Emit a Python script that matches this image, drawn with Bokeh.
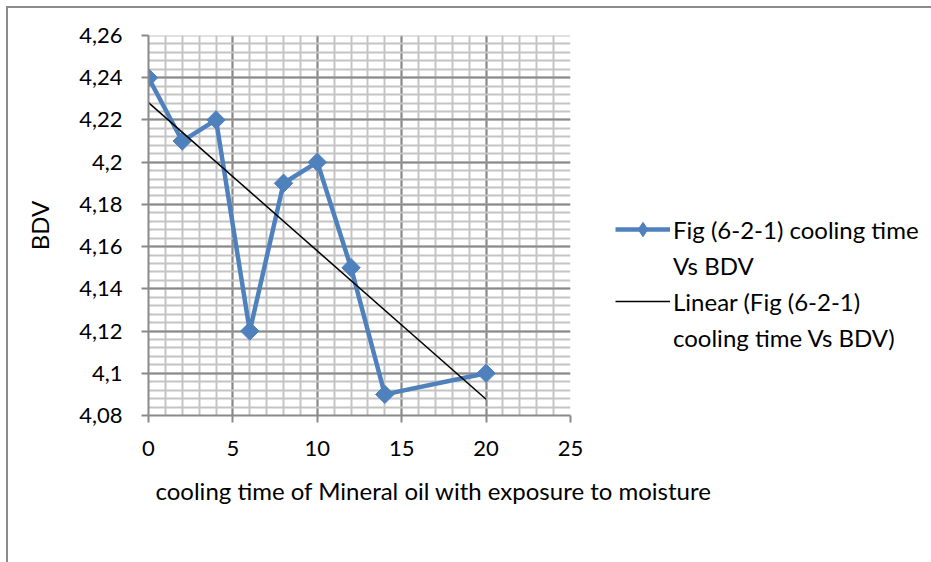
import numpy as np
from bokeh.plotting import figure
from bokeh.models import (Range1d, FixedTicker, Legend, LegendItem, Title)
from bokeh.embed import file_html
from bokeh.resources import INLINE

# ---- data -------------------------------------------------------------
cooling_time = [0, 2, 4, 6, 8, 10, 12, 14, 20]
bdv = [4.24, 4.21, 4.22, 4.12, 4.19, 4.20, 4.15, 4.09, 4.10]

y_ticks = [4.08, 4.10, 4.12, 4.14, 4.16, 4.18, 4.20, 4.22, 4.24, 4.26]
y_tick_labels = ["4,08", "4,1", "4,12", "4,14", "4,16", "4,18", "4,2",
                 "4,22", "4,24", "4,26"]
x_ticks = [0, 5, 10, 15, 20, 25]

series_label_1 = "Fig (6-2-1) cooling time"
series_label_2 = "Vs BDV"
trend_label_1 = "Linear (Fig (6-2-1)"
trend_label_2 = "cooling time Vs BDV)"
x_title = "cooling time of Mineral oil with exposure to moisture"
y_title = "BDV"

# linear trend line (least squares fit of the series)
slope, intercept = np.polyfit(cooling_time, bdv, 1)
trend_x = [cooling_time[0], cooling_time[-1]]
trend_y = [intercept + slope * t for t in trend_x]

# ---- style ------------------------------------------------------------
FONT = "Lato"
FS = "24px"
TICK_FS = "22px"
BLUE = "#4F81BD"
MAJOR = "#8a8a8a"
MINOR = "#c4c4c4"

p = figure(width=923, height=554, frame_width=422, frame_height=380,
           output_backend="svg", toolbar_location=None,
           x_range=Range1d(0, 25), y_range=Range1d(4.08, 4.26),
           min_border_left=140, min_border_right=0,
           min_border_top=27, min_border_bottom=147)
p.styles = {"margin-left": "6px", "margin-top": "6px",
            "border-left": "2px solid #8c8c8c",
            "border-top": "2px solid #8c8c8c"}
p.outline_line_color = None
p.background_fill_color = "white"
p.border_fill_color = "white"

# y minor positions (5 subdivisions per major step)
y_minor = [y_ticks[0] + i * (y_ticks[1] - y_ticks[0]) / 5
           for i in range(5 * (len(y_ticks) - 1) + 1)]

p.xaxis.ticker = FixedTicker(ticks=x_ticks,
                             minor_ticks=list(range(x_ticks[0], x_ticks[-1] + 1)))
p.yaxis.ticker = FixedTicker(ticks=y_ticks, minor_ticks=y_minor)
p.yaxis.major_label_overrides = {t: l for t, l in zip(y_ticks, y_tick_labels)}

for ax in (p.xaxis, p.yaxis):
    ax.axis_line_color = MAJOR
    ax.axis_line_width = 2
    ax.major_tick_line_color = MAJOR
    ax.major_tick_line_width = 2
    ax.major_tick_in = 0
    ax.major_tick_out = 7
    ax.minor_tick_line_color = None
    ax.major_label_text_font = FONT
    ax.major_label_text_font_size = TICK_FS
    ax.major_label_text_color = "black"

p.yaxis.major_label_standoff = 19
p.xaxis.major_label_standoff = 18
p.yaxis.axis_label = y_title
p.yaxis.axis_label_text_font = FONT
p.yaxis.axis_label_text_font_size = FS
p.yaxis.axis_label_text_font_style = "normal"
p.yaxis.axis_label_text_color = "black"
p.yaxis.axis_label_standoff = 22

for g in (p.xgrid, p.ygrid):
    g.grid_line_color = MAJOR
    g.grid_line_width = 2
    g.minor_grid_line_color = MINOR
    g.minor_grid_line_width = 2
p.xgrid.ticker = p.xaxis.ticker
p.ygrid.ticker = p.yaxis.ticker

# ---- glyphs -----------------------------------------------------------
series_line = p.line(cooling_time, bdv, line_color=BLUE, line_width=4.5)
# diamond markers (used as the legend swatch; covered by the rotated squares)
legend_marker = p.scatter(cooling_time, bdv, marker="diamond", size=13,
                          fill_color=BLUE, line_color=BLUE)
series_pts = p.scatter(cooling_time, bdv, marker="square", angle=np.pi / 4,
                       size=13, fill_color=BLUE, line_color=BLUE)
trend = p.line(trend_x, trend_y, line_color="black", line_width=1.5)
blank = p.line([], [], line_alpha=0)

legend = Legend(items=[
    LegendItem(label=series_label_1, renderers=[series_line, legend_marker]),
    LegendItem(label=series_label_2, renderers=[blank]),
    LegendItem(label=trend_label_1, renderers=[trend]),
    LegendItem(label=trend_label_2, renderers=[blank]),
], location=(45, 60), padding=0, margin=0, spacing=0,
    border_line_color=None, background_fill_alpha=0,
    glyph_width=55, glyph_height=36, label_height=36,
    label_standoff=3, label_text_font=FONT,
    label_text_font_size=FS, label_text_color="black")
p.add_layout(legend, "right")

xt = Title(text=x_title, align="left", offset=7, text_font=FONT,
           text_font_size=FS, text_font_style="normal", text_color="black",
           standoff=30)
p.add_layout(xt, "below")

open("out.html", "w").write(file_html(p, INLINE))
